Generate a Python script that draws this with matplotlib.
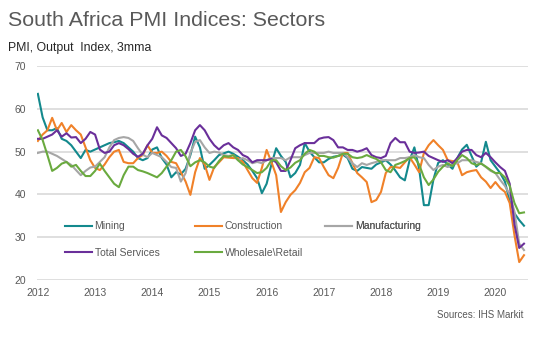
import numpy as np
import matplotlib
matplotlib.use("Agg")
import matplotlib.pyplot as plt
from matplotlib.lines import Line2D

plt.rcParams['font.family'] = ['Liberation Sans', 'DejaVu Sans']

# monthly, 3mma, Jan 2012 .. Jul 2020
years = [2012, 2013, 2014, 2015, 2016, 2017, 2018, 2019, 2020]

mining = [
    63.5, 58, 55, 55, 55.5, 53, 52.5, 51.5, 50, 48.5, 50.4, 50,
    50.5, 51, 51.5, 52, 52.2, 52.5, 52, 51, 50, 48.5, 48, 48.5,
    50.5, 51, 48.5, 47, 44, 45.2, 44.7, 46, 49.2, 53.5, 51, 46,
    46.9, 48, 49.2, 49.6, 50, 49.5, 48.8, 48, 47, 45.5, 43.8, 40.3,
    42.5, 47, 50.8, 49, 47.6, 44, 45, 46.9, 52, 50, 48.7, 47.5,
    47.5, 48.3, 48.8, 49, 49.3, 48.5, 46, 45.5, 46.4, 46.2, 46, 47,
    47.5, 48, 47, 45.6, 44, 43.3, 48, 51, 46, 37.5, 37.5, 43.5,
    47.4, 48, 47, 46, 48.5, 50.5, 51.6, 49, 46.5, 47.5, 52.3, 48,
    46.5, 45, 43, 38.5, 35.6, 34, 32.7,
]
construction = [
    52.5, 54, 55, 57.9, 55, 56.7, 54.6, 56.2, 55, 54, 51, 48,
    46.2, 45.7, 47, 48.7, 50, 50.4, 47.6, 47.3, 47.3, 48.5, 49.2, 51.5,
    49.7, 49.7, 50, 49, 47.6, 47.3, 45.2, 43, 39.9, 45.2, 48.5, 47,
    43.4, 46.4, 47.5, 48.7, 48.6, 48.5, 48.5, 47.6, 45.7, 43.8, 42.7, 46.2,
    50.4, 47.6, 44.5, 35.9, 38.2, 39.9, 41, 42.7, 45.2, 46.2, 48.7, 48.5,
    46.4, 44.5, 43.8, 46.2, 49.7, 49.7, 47.3, 45, 44, 42.9, 38.2, 38.7,
    40.6, 45, 46.4, 46.4, 46.2, 47.5, 48.7, 47, 45.2, 49.7, 51.5, 52.7,
    51.5, 50.4, 48, 47.8, 47.6, 44.5, 45.2, 45.5, 45.7, 44, 43, 41.5,
    42.9, 41.5, 40.6, 38, 30.5, 24.2, 25.8,
]
manufacturing = [
    49.7, 50, 50, 49.5, 49, 48.3, 47.6, 46.9, 45.7, 44.5, 45.5, 46.3,
    46.5, 47.6, 48.7, 51, 52.7, 53.2, 53.4, 53.2, 52.5, 50.8, 49.3, 48.7,
    49.7, 49.2, 48.7, 47.6, 46.4, 46.2, 43, 45, 49.7, 52.3, 52.7, 51,
    49.7, 50, 49.8, 49.2, 49, 49.2, 48, 48.5, 48, 47.3, 47.6, 47.3,
    48, 48.5, 48.5, 48.5, 48, 48.7, 48.7, 48.7, 49.2, 49.7, 49.7, 49.7,
    49.7, 50, 49.7, 49.7, 49.7, 48.7, 47.3, 46.4, 47.3, 46.9, 47.3, 47.6,
    48, 48, 48, 48, 48.5, 48.5, 48.7, 49.2, 48.7, 48.5, 46.9, 45.7,
    46.5, 46.9, 46.4, 47, 47.3, 48, 48, 48, 47.6, 47.3, 46.4, 45.5,
    45, 43.4, 42, 40, 36, 28.5, 27,
]
total_services = [
    53, 53, 53.5, 54, 55, 53.5, 54.3, 53.3, 53.4, 52, 53, 54.6,
    54, 50.5, 49.7, 50, 51.5, 52, 51.5, 50.6, 49.5, 48.8, 49.5, 51.5,
    53, 55.7, 53.8, 53.2, 52, 50.8, 49, 49.5, 52, 55, 56.2, 55,
    53, 51.5, 50.5, 51.5, 52, 51, 50.4, 49.2, 48.7, 47.5, 48, 48,
    48, 48.3, 47.5, 45.5, 45.5, 48, 50.8, 51.5, 52, 52, 52, 53,
    53.3, 53.4, 52.7, 51, 51, 50.4, 50.4, 50, 50.3, 50.8, 49.2, 48.7,
    48.5, 49, 52, 53.2, 52.2, 52.2, 50, 49.7, 49.8, 50, 49, 48.5,
    48, 47.6, 48, 47.3, 48.5, 50, 50.4, 50.4, 49.2, 48.7, 49.7, 48.7,
    47.5, 46.4, 45.5, 42.5, 33, 27.5, 28.5,
]
wholesale_retail = [
    55, 52.7, 49.2, 45.5, 46.2, 47.2, 47.6, 46.5, 46.9, 45.5, 44.3, 44.3,
    45.5, 47.2, 45.5, 44, 42.5, 41.7, 44.5, 46.5, 46.5, 45.7, 45.4, 45,
    44.5, 44, 45, 46.5, 48, 50, 50.4, 48.9, 46.6, 47.5, 48, 47.5,
    46.5, 46.2, 47.8, 49, 48.8, 49.2, 48, 47, 46.4, 45.7, 45, 45.2,
    46.2, 48, 48, 46.6, 45.7, 46.3, 47.4, 48, 49.5, 50.4, 50, 49,
    49, 48.7, 48.6, 49, 49.5, 49.5, 48.7, 48.5, 48.7, 49.2, 48.7, 48.3,
    47.5, 45.7, 45.2, 46.9, 47.3, 47.8, 48.5, 48.7, 47, 44, 42.2, 43.5,
    45.3, 46.5, 47.3, 46.6, 48, 49.2, 48.5, 47.3, 46.9, 47.2, 46.5, 45.7,
    45, 45, 44, 42, 38, 35.6, 35.8,
]

series = [
    ("Mining", mining, "#13898d"),
    ("Construction", construction, "#f08129"),
    ("Manufacturing", manufacturing, "#a6a6a6"),
    ("Total Services", total_services, "#6a2f9a"),
    ("Wholesale\\Retail", wholesale_retail, "#6aaa3f"),
]

txt = "#595959"
fig = plt.figure(figsize=(5.43, 3.37), dpi=100)
ax = fig.add_axes([0.068, 0.169, 0.904, 0.635])

lines = {}
for name, vals, col in series:
    x = np.arange(len(vals))
    ln, = ax.plot(x, vals, color=col, linewidth=1.5, solid_joinstyle='round')
    lines[name] = ln

ax.set_ylim(20, 70)
ax.set_xlim(-0.2, 102.8)
ax.set_yticks(range(20, 71, 10))
ax.set_xticks([12 * i for i in range(len(years))])
ax.set_xticklabels([str(y) for y in years])
ax.tick_params(length=0, labelsize=7.5, labelcolor=txt, pad=6)
ax.tick_params(axis='y', pad=8)
for s in ax.spines.values():
    s.set_visible(False)
ax.grid(axis='y', color="#d9d9d9", linewidth=1.2)
ax.set_axisbelow(True)

# legend: three columns placed by hand
cols = [["Mining", "Total Services"], ["Construction", "Wholesale\\Retail"], ["Manufacturing"]]
xs = [0.057, 0.322, 0.587]
for names, xl in zip(cols, xs):
    handles = [Line2D([], [], color=lines[n].get_color(), linewidth=1.5) for n in names]
    leg = ax.legend(handles, names, loc='upper left', bbox_to_anchor=(xl, 0.274),
                    frameon=False, fontsize=7.5, labelcolor=txt, handlelength=2.6,
                    handletextpad=0.25, labelspacing=1.55, borderaxespad=0,
                    borderpad=0)
    ax.add_artist(leg)

fig.text(0.015, 0.94, "South Africa PMI Indices: Sectors", fontsize=15.4, color=txt, va='center')
fig.text(0.015, 0.857, "PMI, Output  Index, 3mma", fontsize=8.8, color="#262626", va='center')
fig.text(0.963, 0.065, "Sources: IHS Markit", fontsize=7, color=txt, ha='right', va='center')

fig.savefig("out.png", dpi=100)
